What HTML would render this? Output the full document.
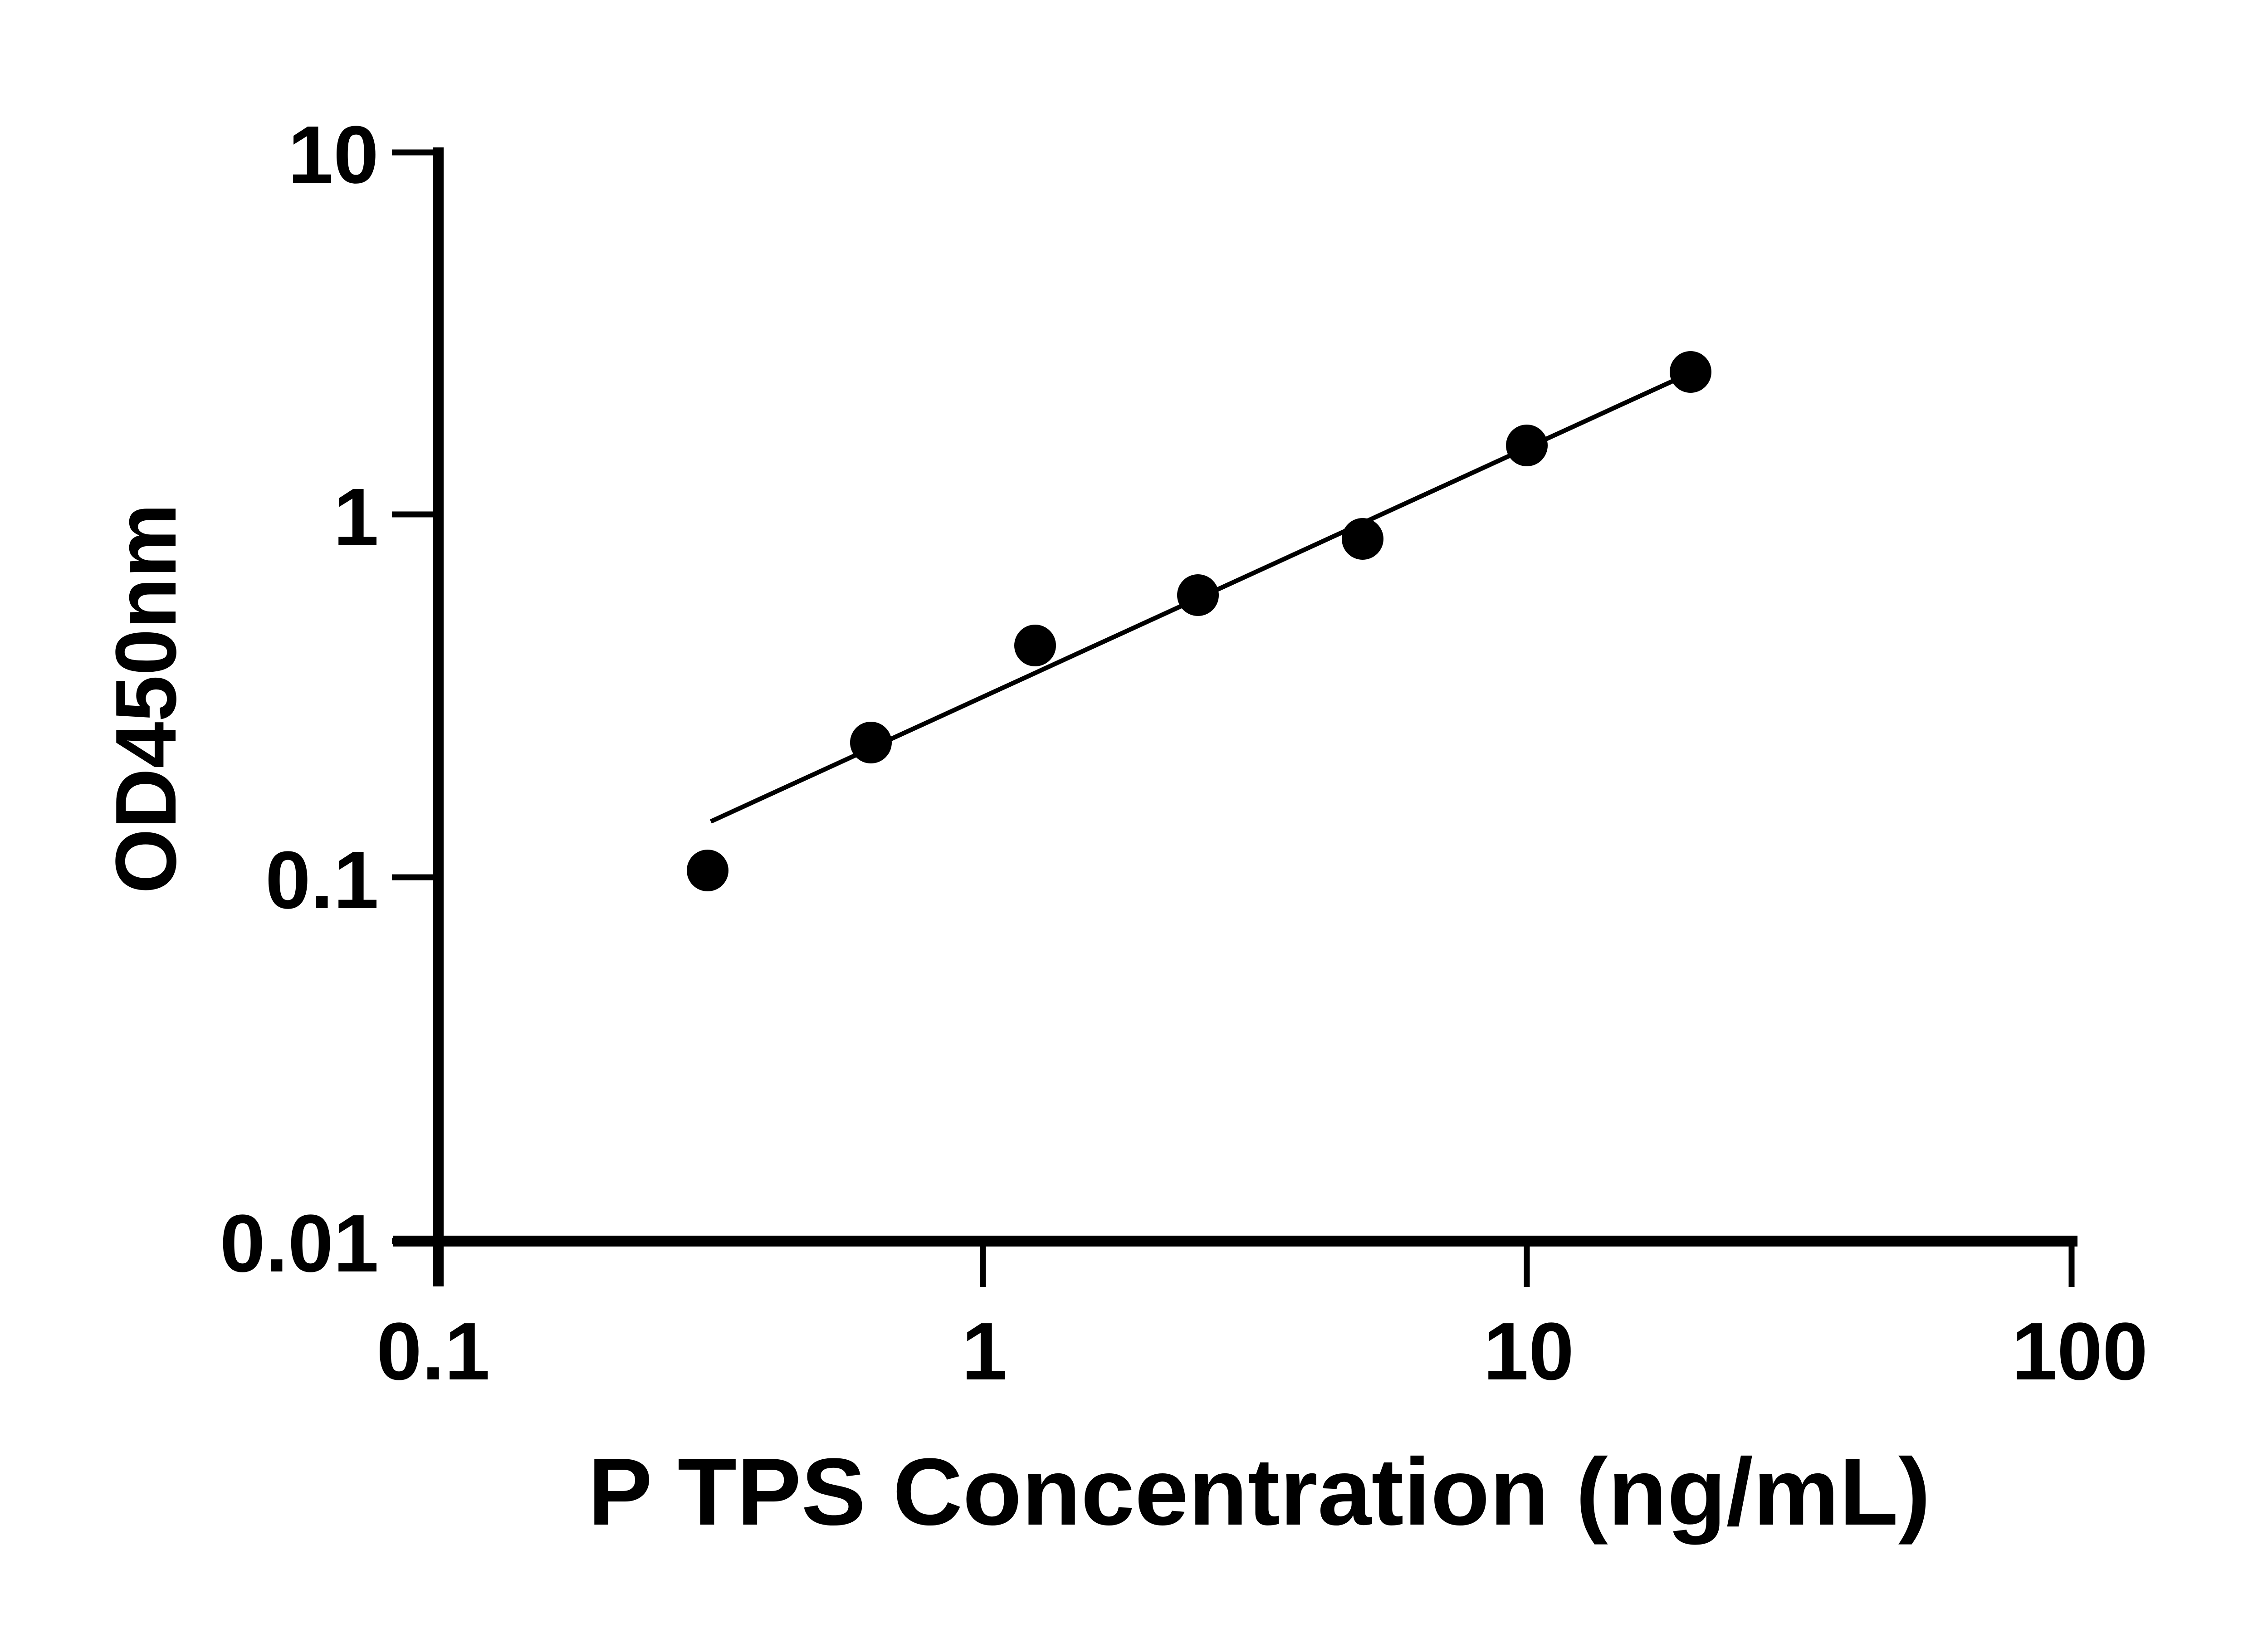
<!DOCTYPE html>
<html><head><meta charset="utf-8"><style>html,body{margin:0;padding:0;background:#fff}svg{display:block}</style></head>
<body>
<svg width="5118" height="3600" viewBox="0 0 5118 3600" xmlns="http://www.w3.org/2000/svg">
<rect width="5118" height="3600" fill="#fff"/>
<g stroke="#000" fill="none">
<line x1="966" y1="325" x2="966" y2="2836" stroke-width="24"/>
<line x1="866" y1="2736" x2="4580" y2="2736" stroke-width="24"/>
<g stroke-width="13">
<line x1="864" y1="336" x2="966" y2="336"/>
<line x1="864" y1="1134" x2="966" y2="1134"/>
<line x1="864" y1="1934" x2="966" y2="1934"/>
<line x1="864" y1="2736" x2="966" y2="2736"/>
<line x1="2167" y1="2736" x2="2167" y2="2837"/>
<line x1="3366" y1="2736" x2="3366" y2="2837"/>
<line x1="4567" y1="2736" x2="4567" y2="2837"/>
</g>
<line x1="1567" y1="1811" x2="3727" y2="822" stroke-width="10"/>
</g>
<g fill="#000">
<circle cx="1560" cy="1919" r="46"/>
<circle cx="1920" cy="1637" r="46"/>
<circle cx="2282" cy="1423" r="46"/>
<circle cx="2641" cy="1312" r="46"/>
<circle cx="3004" cy="1188" r="46"/>
<circle cx="3366" cy="982" r="46"/>
<circle cx="3727" cy="820" r="46"/>
</g>
<g font-family="Liberation Sans, sans-serif" font-weight="bold" fill="#000" font-size="180">
<text x="835" y="403" text-anchor="end">10</text>
<text x="835" y="1202" text-anchor="end">1</text>
<text x="835" y="2002" text-anchor="end">0.1</text>
<text x="835" y="2803" text-anchor="end">0.01</text>
<text x="955" y="3041" text-anchor="middle">0.1</text>
<text x="2170" y="3041" text-anchor="middle">1</text>
<text x="3370" y="3041" text-anchor="middle">10</text>
<text x="4585" y="3041" text-anchor="middle">100</text>
<text x="1296" y="3361" font-size="210" textLength="2960" lengthAdjust="spacingAndGlyphs">P TPS Concentration (ng/mL)</text>
<text transform="translate(387,1540) rotate(-90)" text-anchor="middle" font-size="190" textLength="860" lengthAdjust="spacingAndGlyphs">OD450nm</text>
</g>
</svg>
</body></html>
